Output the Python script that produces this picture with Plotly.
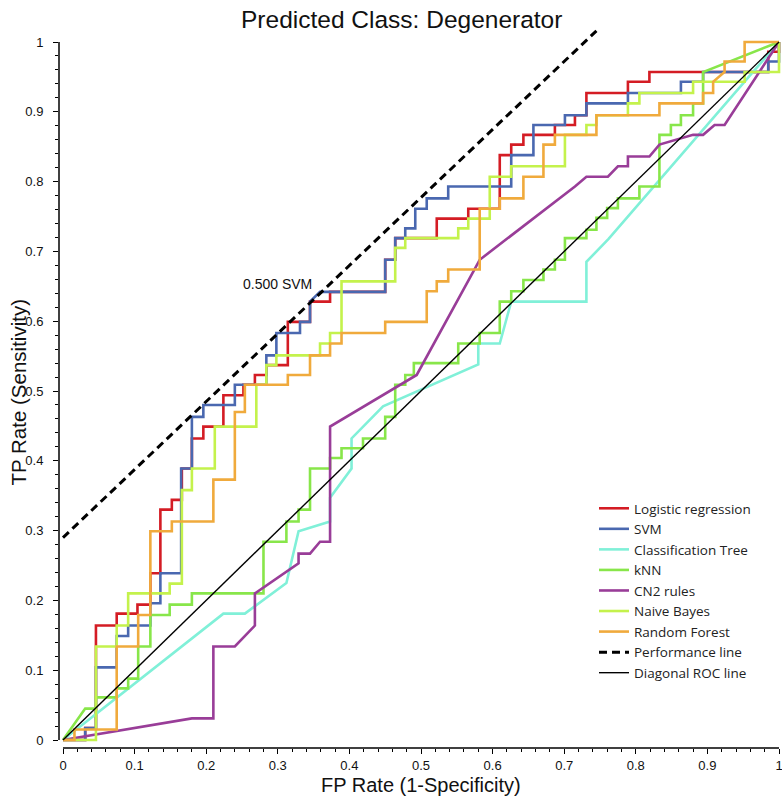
import plotly.graph_objects as go

# ---------------- data ----------------
LR_FPR = [0, 0.031, 0.031, 0.046, 0.046, 0.075, 0.075, 0.104, 0.104, 0.122, 0.122, 0.136, 0.136, 0.152, 0.152,
          0.166, 0.166, 0.180, 0.180, 0.196, 0.196, 0.224, 0.224, 0.252, 0.252, 0.268, 0.268, 0.284, 0.284,
          0.314, 0.314, 0.345, 0.345, 0.373, 0.373, 0.450, 0.450, 0.464, 0.464, 0.522, 0.522, 0.566, 0.566,
          0.610, 0.610, 0.626, 0.626, 0.643, 0.643, 0.687, 0.687, 0.715, 0.715, 0.731, 0.731, 0.789, 0.789,
          0.819, 0.819, 0.985, 0.985, 1.0, 1.0]
LR_TPR = [0, 0, 0.017, 0.017, 0.164, 0.164, 0.181, 0.181, 0.194, 0.194, 0.239, 0.239, 0.330, 0.330, 0.344,
          0.344, 0.389, 0.389, 0.432, 0.432, 0.449, 0.449, 0.494, 0.494, 0.509, 0.509, 0.523, 0.523, 0.537,
          0.537, 0.599, 0.599, 0.628, 0.628, 0.642, 0.642, 0.688, 0.688, 0.719, 0.719, 0.747, 0.747, 0.761,
          0.761, 0.838, 0.838, 0.853, 0.853, 0.867, 0.867, 0.881, 0.881, 0.895, 0.895, 0.927, 0.927, 0.943,
          0.943, 0.957, 0.957, 0.986, 0.986, 1.0]

SVM_FPR = [0, 0.031, 0.031, 0.046, 0.046, 0.075, 0.075, 0.091, 0.091, 0.122, 0.122, 0.136, 0.136, 0.165, 0.165,
           0.180, 0.180, 0.196, 0.196, 0.240, 0.240, 0.284, 0.284, 0.298, 0.298, 0.331, 0.331, 0.345, 0.345,
           0.359, 0.450, 0.450, 0.464, 0.464, 0.478, 0.478, 0.492, 0.492, 0.508, 0.508, 0.538, 0.538, 0.626,
           0.626, 0.657, 0.657, 0.701, 0.701, 0.731, 0.731, 0.789, 0.789, 0.863, 0.863, 0.894, 0.894, 0.985,
           0.985, 1.0, 1.0]
SVM_TPR = [0, 0, 0.017, 0.017, 0.104, 0.104, 0.149, 0.149, 0.164, 0.164, 0.196, 0.196, 0.239, 0.239, 0.389,
           0.389, 0.463, 0.463, 0.480, 0.480, 0.509, 0.509, 0.551, 0.551, 0.583, 0.583, 0.599, 0.599, 0.628,
           0.642, 0.642, 0.688, 0.688, 0.719, 0.719, 0.733, 0.733, 0.761, 0.761, 0.776, 0.776, 0.793, 0.793,
           0.838, 0.838, 0.881, 0.881, 0.895, 0.895, 0.912, 0.912, 0.927, 0.927, 0.943, 0.943, 0.957, 0.957,
           0.972, 0.972, 1.0]

TREE_FPR = [0, 0.224, 0.254, 0.312, 0.329, 0.373, 0.373, 0.403, 0.403, 0.447, 0.580, 0.580, 0.610, 0.626,
            0.731, 0.731, 0.762, 1.0]
TREE_TPR = [0, 0.181, 0.181, 0.225, 0.299, 0.313, 0.347, 0.389, 0.432, 0.478, 0.538, 0.568, 0.568, 0.628,
            0.628, 0.685, 0.718, 1.0]

KNN_FPR = [0, 0.031, 0.046, 0.046, 0.075, 0.075, 0.091, 0.091, 0.105, 0.105, 0.122, 0.122, 0.149, 0.149,
           0.180, 0.180, 0.280, 0.280, 0.312, 0.312, 0.329, 0.329, 0.345, 0.345, 0.373, 0.373, 0.389, 0.389,
           0.419, 0.419, 0.450, 0.450, 0.464, 0.464, 0.478, 0.478, 0.490, 0.490, 0.552, 0.552, 0.582, 0.582,
           0.610, 0.610, 0.626, 0.626, 0.643, 0.643, 0.671, 0.671, 0.687, 0.687, 0.701, 0.701, 0.731, 0.731,
           0.745, 0.745, 0.760, 0.760, 0.775, 0.775, 0.805, 0.805, 0.833, 0.833, 0.849, 0.849, 0.863, 0.863,
           0.880, 0.880, 0.894, 0.894, 1.0]
KNN_TPR = [0, 0.045, 0.045, 0.061, 0.061, 0.074, 0.074, 0.088, 0.088, 0.134, 0.134, 0.179, 0.179, 0.194,
           0.194, 0.210, 0.210, 0.284, 0.284, 0.313, 0.313, 0.330, 0.330, 0.389, 0.389, 0.404, 0.404, 0.418,
           0.418, 0.432, 0.432, 0.463, 0.463, 0.509, 0.509, 0.523, 0.523, 0.540, 0.540, 0.568, 0.568, 0.583,
           0.583, 0.628, 0.628, 0.643, 0.643, 0.659, 0.659, 0.674, 0.674, 0.688, 0.688, 0.719, 0.719, 0.731,
           0.731, 0.748, 0.748, 0.762, 0.762, 0.776, 0.776, 0.793, 0.793, 0.867, 0.867, 0.881, 0.881, 0.895,
           0.895, 0.912, 0.912, 0.957, 1.0]

CN2_FPR = [0, 0.180, 0.210, 0.210, 0.240, 0.268, 0.268, 0.329, 0.329, 0.345, 0.359, 0.373, 0.373, 0.494,
           0.582, 0.694, 0.715, 0.731, 0.761, 0.775, 0.789, 0.789, 0.819, 0.833, 0.880, 0.894, 0.910, 0.924, 1.0]
CN2_TPR = [0, 0.031, 0.031, 0.134, 0.134, 0.164, 0.210, 0.253, 0.267, 0.267, 0.284, 0.284, 0.449, 0.523,
           0.688, 0.776, 0.793, 0.807, 0.807, 0.822, 0.822, 0.836, 0.836, 0.853, 0.867, 0.867, 0.881, 0.881, 1.0]

NB_FPR = [0, 0.046, 0.046, 0.075, 0.075, 0.091, 0.091, 0.149, 0.149, 0.166, 0.166, 0.180, 0.180, 0.212,
          0.212, 0.270, 0.270, 0.284, 0.284, 0.298, 0.298, 0.359, 0.359, 0.373, 0.373, 0.389, 0.389, 0.464,
          0.464, 0.478, 0.478, 0.552, 0.552, 0.566, 0.566, 0.596, 0.596, 0.626, 0.626, 0.701, 0.701, 0.731,
          0.731, 0.745, 0.745, 0.789, 0.789, 0.805, 0.805, 0.880, 0.880, 0.952, 0.952, 1.0, 1.0]
NB_TPR = [0, 0, 0.134, 0.134, 0.164, 0.164, 0.210, 0.210, 0.224, 0.224, 0.358, 0.358, 0.389, 0.389, 0.449,
          0.449, 0.509, 0.509, 0.537, 0.537, 0.551, 0.551, 0.568, 0.568, 0.583, 0.583, 0.657, 0.657, 0.705,
          0.705, 0.719, 0.719, 0.733, 0.733, 0.747, 0.747, 0.807, 0.807, 0.822, 0.822, 0.867, 0.867, 0.881,
          0.881, 0.895, 0.895, 0.912, 0.912, 0.927, 0.927, 0.943, 0.943, 0.957, 0.957, 1.0]

RF_FPR = [0, 0.016, 0.016, 0.075, 0.075, 0.105, 0.105, 0.122, 0.122, 0.152, 0.152, 0.210, 0.210, 0.240,
          0.240, 0.254, 0.254, 0.314, 0.314, 0.345, 0.345, 0.373, 0.373, 0.389, 0.389, 0.450, 0.450, 0.508,
          0.508, 0.522, 0.522, 0.538, 0.538, 0.582, 0.582, 0.610, 0.610, 0.643, 0.643, 0.671, 0.671, 0.687,
          0.687, 0.745, 0.745, 0.833, 0.833, 0.894, 0.894, 0.908, 0.908, 0.924, 0.924, 0.952, 0.952, 1.0]
RF_TPR = [0, 0, 0.015, 0.015, 0.134, 0.134, 0.179, 0.179, 0.299, 0.299, 0.313, 0.313, 0.373, 0.373, 0.470,
          0.470, 0.509, 0.509, 0.523, 0.523, 0.551, 0.551, 0.568, 0.568, 0.583, 0.583, 0.599, 0.599, 0.643,
          0.643, 0.657, 0.657, 0.674, 0.674, 0.761, 0.761, 0.776, 0.776, 0.807, 0.807, 0.853, 0.853, 0.867,
          0.867, 0.895, 0.895, 0.912, 0.912, 0.927, 0.927, 0.943, 0.957, 0.972, 0.972, 1.0, 1.0]

PERF_X = [0.0, 0.745]
PERF_Y = [0.290, 1.016]
DIAG_X = [0.0, 1.0]
DIAG_Y = [0.0, 1.0]

TICKS = [0, 0.1, 0.2, 0.3, 0.4, 0.5, 0.6, 0.7, 0.8, 0.9, 1]
TICK_LABELS = ["0", "0.1", "0.2", "0.3", "0.4", "0.5", "0.6", "0.7", "0.8", "0.9", "1"]
MINOR_TICKS = [i / 50 for i in range(51)]

TITLE = "Predicted Class: Degenerator"
X_TITLE = "FP Rate (1-Specificity)"
Y_TITLE = "TP Rate (Sensitivity)"
PERF_LABEL = "0.500 SVM"

SERIES = [
    ("Logistic regression", LR_FPR, LR_TPR, "#d41c24"),
    ("SVM", SVM_FPR, SVM_TPR, "#4a68b0"),
    ("Classification Tree", TREE_FPR, TREE_TPR, "#80f0d8"),
    ("kNN", KNN_FPR, KNN_TPR, "#88e64a"),
    ("CN2 rules", CN2_FPR, CN2_TPR, "#993d98"),
    ("Naive Bayes", NB_FPR, NB_TPR, "#c4f24c"),
    ("Random Forest", RF_FPR, RF_TPR, "#f0aa3c"),
]

# ---------------- layout geometry (window pixels; body margin removed below) ----------------
W, H = 782, 798
AX_Y_PX, AX_X_PX = 59, 748     # y-axis line x, x-axis line y
X0PX, XSCALE = 63, 716         # pixel of x=0, pixels per unit
Y0PX, YSCALE = 740, 698        # pixel of y=0, pixels per unit
L = AX_Y_PX
R = 0
T = 24
B = H - AX_X_PX
PW, PH = W - L - R, H - T - B
xr = [(L - X0PX) / XSCALE, (W - R - X0PX) / XSCALE]
yr = [(Y0PX - (H - B)) / YSCALE, (Y0PX - T) / YSCALE]


def xp(v):
    return (v - xr[0]) / (xr[1] - xr[0])


def yp(v):
    return (v - yr[0]) / (yr[1] - yr[0])


def px2paper_x(px):
    return (px - L) / PW


def px2paper_y(py):
    return (H - B - py) / PH


AXFONT = "Liberation Sans, Arial, sans-serif"

fig = go.Figure()
for name, xs, ys, col in SERIES:
    fig.add_trace(go.Scatter(x=xs, y=ys, mode="lines", name=name,
                             line=dict(color=col, width=2.6)))
fig.add_trace(go.Scatter(x=PERF_X, y=PERF_Y, mode="lines", name="Performance line",
                         line=dict(color="black", width=3, dash="8px,5px")))
fig.add_trace(go.Scatter(x=DIAG_X, y=DIAG_Y, mode="lines", name="Diagonal ROC line",
                         line=dict(color="black", width=1.4)))

axis_common = dict(
    showgrid=False, zeroline=False, showline=False,
    tickmode="array", tickvals=TICKS, ticktext=TICK_LABELS,
    ticks="outside", ticklen=5, tickwidth=1.3, tickcolor="black",
    ticklabeloverflow="allow",
    tickfont=dict(family=AXFONT, size=13, color="#111"),
    minor=dict(tickmode="array", tickvals=MINOR_TICKS, ticks="outside",
               ticklen=3, tickwidth=1, tickcolor="black"),
)

fig.update_layout(
    width=W, height=H,
    margin=dict(l=L, r=R, t=T, b=B, autoexpand=False),
    paper_bgcolor="white", plot_bgcolor="white",
    xaxis=dict(range=xr, **axis_common),
    yaxis=dict(range=yr, ticklabelstandoff=7, **axis_common),
    showlegend=True,
    legend=dict(x=px2paper_x(594), y=px2paper_y(493), xanchor="left", yanchor="top",
                bgcolor="rgba(0,0,0,0)", borderwidth=0,
                font=dict(family="Open Sans, sans-serif", size=13.5, color="#222")),
    shapes=[
        dict(type="line", xref="paper", yref="paper", x0=xp(0), x1=xp(1), y0=0, y1=0,
             line=dict(color="black", width=1.5)),
        dict(type="line", xref="paper", yref="paper", x0=0, x1=0, y0=yp(0), y1=yp(1),
             line=dict(color="black", width=1.5)),
    ],
    annotations=[
        dict(text=TITLE, xref="paper", yref="paper", x=px2paper_x(401), y=px2paper_y(5),
             xanchor="center", yanchor="top", showarrow=False, borderpad=0,
             font=dict(family=AXFONT, size=24.5, color="#111")),
        dict(text=X_TITLE, xref="paper", yref="paper", x=px2paper_x(421), y=px2paper_y(785),
             xanchor="center", yanchor="middle", showarrow=False,
             font=dict(family=AXFONT, size=20, color="#111")),
        dict(text=Y_TITLE, xref="paper", yref="paper", x=px2paper_x(17.5), y=px2paper_y(393),
             xanchor="center", yanchor="middle", showarrow=False, textangle=-90,
             font=dict(family=AXFONT, size=20.5, color="#111")),
        dict(text=PERF_LABEL, x=0.299, y=0.653, xref="x", yref="y",
             xanchor="center", yanchor="middle", showarrow=False,
             font=dict(family=AXFONT, size=14, color="#111")),
    ],
)

fig.write_html("out.html",
               config={"displayModeBar": False},
               post_script="document.body.style.margin='0px';document.body.style.overflow='hidden';")
